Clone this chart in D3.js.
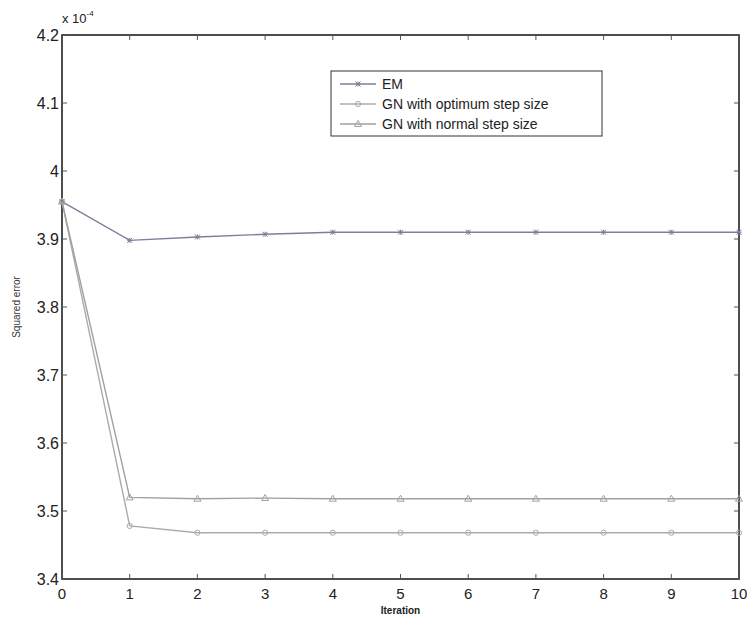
<!DOCTYPE html>
<html>
<head>
<meta charset="utf-8">
<script src="https://cdn.jsdelivr.net/npm/d3@7"></script>
<style>
  body { margin: 0; background: #fff; }
  svg { font-family: "Liberation Sans", Arial, sans-serif; }
</style>
</head>
<body>
<svg id="chart" width="747" height="622"></svg>
<script>
// Iterations and squared error (units of 1e-4)
const iterations = [0, 1, 2, 3, 4, 5, 6, 7, 8, 9, 10];
const emError = [3.955, 3.898, 3.903, 3.907, 3.910, 3.910, 3.910, 3.910, 3.910, 3.910, 3.910];
const gnOptimum = [3.955, 3.478, 3.468, 3.468, 3.468, 3.468, 3.468, 3.468, 3.468, 3.468, 3.468];
const gnNormal = [3.955, 3.520, 3.518, 3.519, 3.518, 3.518, 3.518, 3.518, 3.518, 3.518, 3.518];
const xTicks = [0, 1, 2, 3, 4, 5, 6, 7, 8, 9, 10];
const yTicks = [3.4, 3.5, 3.6, 3.7, 3.8, 3.9, 4.0, 4.1, 4.2];
const legendLabels = ["EM", "GN with optimum step size", "GN with normal step size"];

const margin = { top: 35, right: 8, bottom: 43, left: 62 };
const width = 747, height = 622;
const svg = d3.select("#chart");

const x = d3.scaleLinear().domain([0, 10]).range([margin.left, width - margin.right]);
const y = d3.scaleLinear().domain([3.4, 4.2]).range([height - margin.bottom, margin.top]);

const series = [
  { name: legendLabels[0], values: emError, color: "#7c7f98", marker: "star" },
  { name: legendLabels[1], values: gnOptimum, color: "#ababab", marker: "circle" },
  { name: legendLabels[2], values: gnNormal, color: "#a0a0a0", marker: "triangle" }
];

// Plot frame
const x0 = x(0), x1 = x(10), y0 = y(3.4), y1 = y(4.2);
svg.append("rect")
  .attr("x", x0).attr("y", y1)
  .attr("width", x1 - x0).attr("height", y0 - y1)
  .attr("fill", "none").attr("stroke", "#222").attr("stroke-width", 1.6);

// Inward ticks on all four sides
const tickLen = 5;
xTicks.forEach(t => {
  svg.append("line").attr("x1", x(t)).attr("x2", x(t)).attr("y1", y0).attr("y2", y0 - tickLen)
    .attr("stroke", "#555").attr("stroke-width", 1);
  svg.append("line").attr("x1", x(t)).attr("x2", x(t)).attr("y1", y1).attr("y2", y1 + tickLen)
    .attr("stroke", "#555").attr("stroke-width", 1);
  svg.append("text").attr("x", x(t)).attr("y", y0 + 20)
    .attr("text-anchor", "middle").attr("font-size", 15).attr("fill", "#222")
    .text(t);
});
yTicks.forEach(t => {
  svg.append("line").attr("x1", x0).attr("x2", x0 + tickLen).attr("y1", y(t)).attr("y2", y(t))
    .attr("stroke", "#555").attr("stroke-width", 1);
  svg.append("line").attr("x1", x1).attr("x2", x1 - tickLen).attr("y1", y(t)).attr("y2", y(t))
    .attr("stroke", "#555").attr("stroke-width", 1);
  svg.append("text").attr("x", x0 - 3).attr("y", y(t) + 6)
    .attr("text-anchor", "end").attr("font-size", 16).attr("fill", "#222")
    .text(d3.format("~g")(t));
});

// Exponent label
const expo = svg.append("text").attr("x", x0).attr("y", 23).attr("font-size", 13).attr("fill", "#222");
expo.append("tspan").text("x 10");
expo.append("tspan").attr("font-size", 8).attr("dy", -7).text("-4");

// Axis titles
svg.append("text").attr("x", x(5)).attr("y", 614)
  .attr("text-anchor", "middle").attr("font-size", 10).attr("font-weight", "bold").attr("fill", "#222")
  .text("Iteration");
svg.append("text").attr("transform", `translate(20,${y(3.8)}) rotate(-90)`)
  .attr("text-anchor", "middle").attr("font-size", 10).attr("fill", "#333")
  .text("Squared error");

// Marker drawing
function drawMarker(g, kind, cx, cy, color) {
  if (kind === "star") {
    const s = 2.5;
    g.append("path")
      .attr("d", `M${cx - s},${cy}H${cx + s}M${cx},${cy - s}V${cy + s}M${cx - s},${cy - s}L${cx + s},${cy + s}M${cx - s},${cy + s}L${cx + s},${cy - s}`)
      .attr("stroke", color).attr("stroke-width", 1).attr("fill", "none");
  } else if (kind === "circle") {
    g.append("circle").attr("cx", cx).attr("cy", cy).attr("r", 2.6)
      .attr("stroke", color).attr("stroke-width", 1).attr("fill", "none");
  } else {
    const s = 3.5;
    g.append("path")
      .attr("d", `M${cx},${cy - s}L${cx + s},${cy + s * 0.7}L${cx - s},${cy + s * 0.7}Z`)
      .attr("stroke", color).attr("stroke-width", 1).attr("fill", "none");
  }
}

const line = d3.line().x((d, i) => x(iterations[i])).y(d => y(d));

// Series lines and markers
series.forEach(s => {
  const g = svg.append("g");
  g.append("path").datum(s.values).attr("d", line)
    .attr("fill", "none").attr("stroke", s.color).attr("stroke-width", 1.4);
  s.values.forEach((v, i) => drawMarker(g, s.marker, x(iterations[i]), y(v), s.color));
});

// Legend
const lg = svg.append("g");
lg.append("rect").attr("x", 331).attr("y", 71).attr("width", 271).attr("height", 65)
  .attr("fill", "#fff").attr("stroke", "#333").attr("stroke-width", 1);
series.forEach((s, i) => {
  const ly = 84 + i * 20;
  lg.append("line").attr("x1", 340).attr("x2", 376).attr("y1", ly).attr("y2", ly)
    .attr("stroke", s.color).attr("stroke-width", 1.3);
  drawMarker(lg, s.marker, 358, ly, s.color);
  lg.append("text").attr("x", 382).attr("y", ly + 5).attr("font-size", 14).attr("fill", "#222")
    .text(s.name);
});
</script>
</body>
</html>
